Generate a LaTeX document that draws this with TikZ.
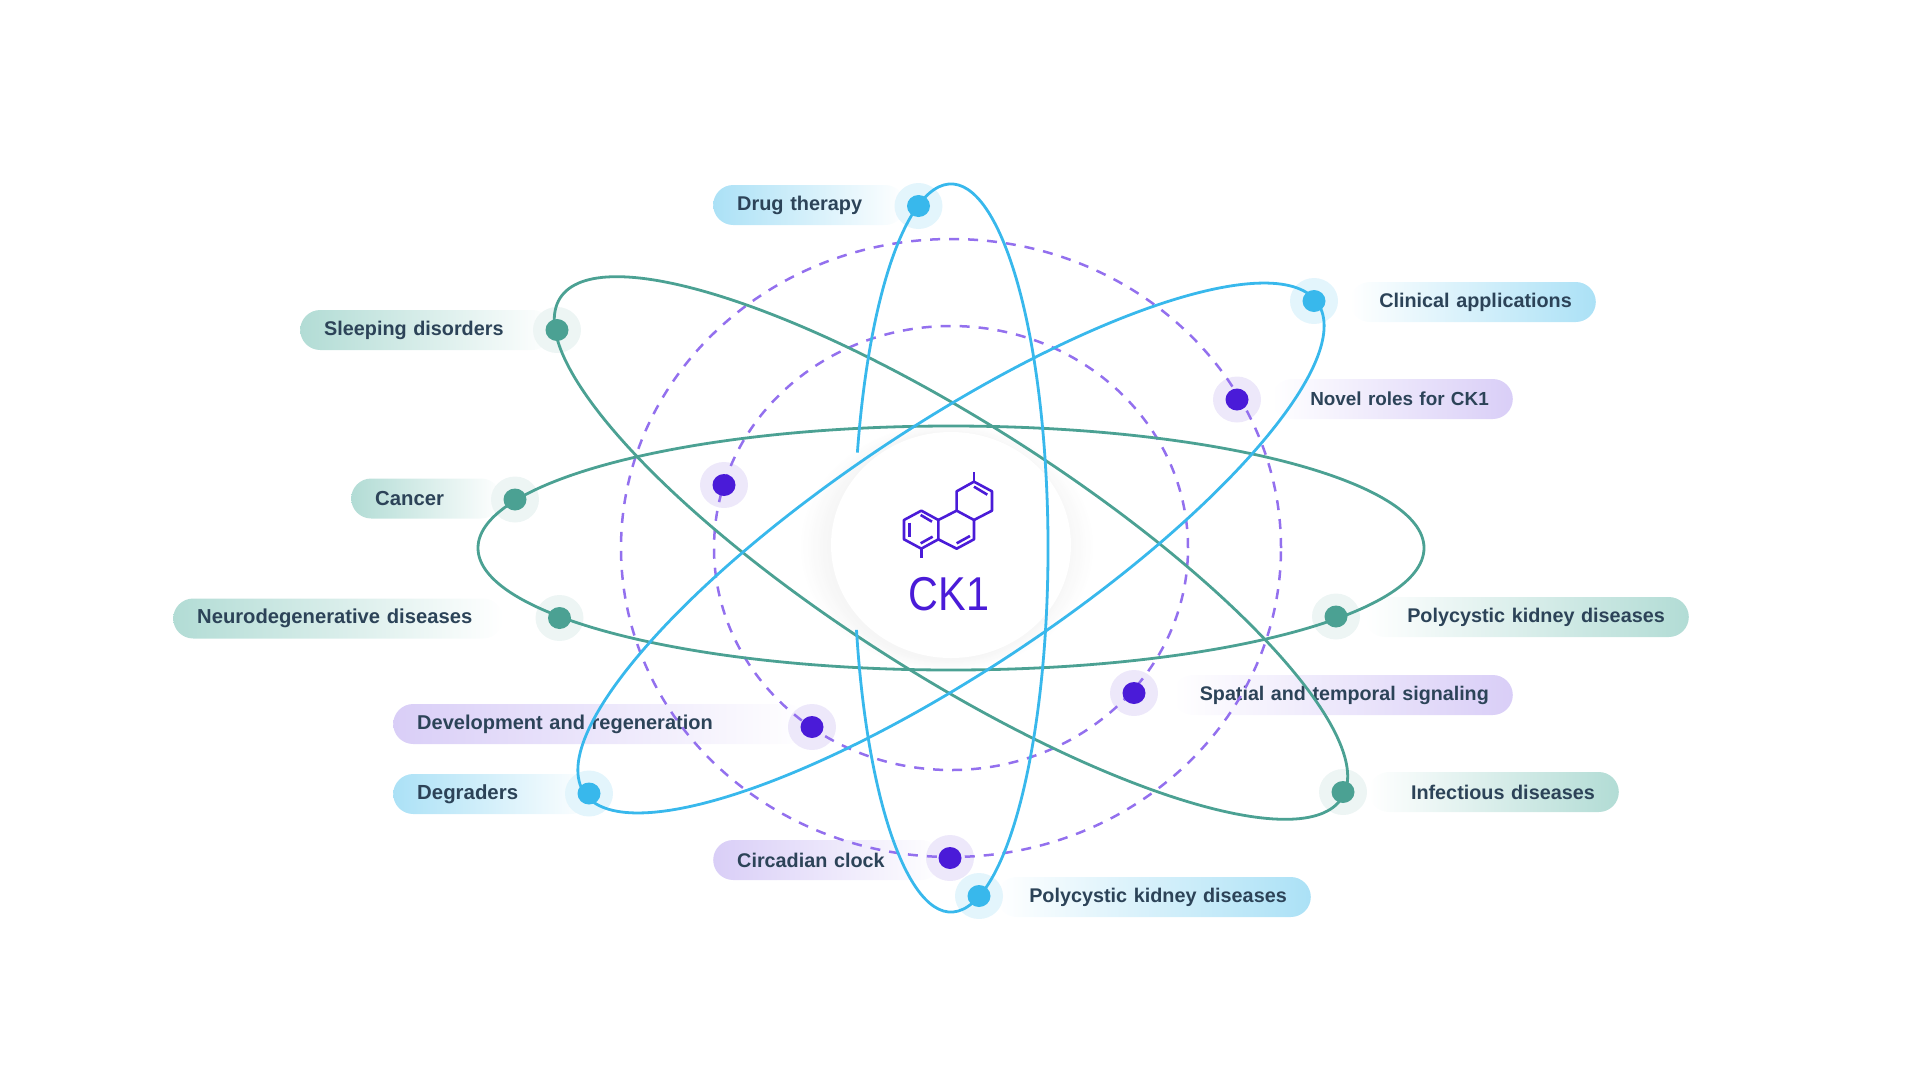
\documentclass[tikz,border=0pt]{standalone}
\usepackage{fontspec}
\setmainfont{Liberation Sans}
\newfontfamily\corefont[FakeStretch=0.87]{Liberation Sans}
\usetikzlibrary{shapes.geometric}

\definecolor{tealline}{HTML}{4BA193}
\definecolor{skyline}{HTML}{38B8EC}
\definecolor{violetline}{HTML}{9370EE}
\definecolor{violetdark}{HTML}{4A1BD8}
\definecolor{tealpill}{HTML}{B2DCD5}
\definecolor{skypill}{HTML}{ABE1F6}
\definecolor{violetpill}{HTML}{D9CEF7}
\definecolor{tealhalo}{HTML}{EDF5F4}
\definecolor{skyhalo}{HTML}{E3F5FC}
\definecolor{violethalo}{HTML}{EDE8FA}
\definecolor{labeltext}{HTML}{2C4358}

\tikzset{
  orbit/.style={line width=2.8pt},
  ring/.style={line width=2.5pt,violetline,dash pattern=on 10pt off 9pt},
  pill/.style={rounded corners=20pt,minimum height=40pt,inner ysep=0pt,inner xsep=24pt,
    text=labeltext,font=\fontsize{#1pt}{24pt}\selectfont\bfseries},
  pillleft/.style 2 args={pill=#2,anchor=west,align=left,left color=#1,right color=white},
  pillright/.style 2 args={pill=#2,anchor=east,align=right,right color=#1,left color=white},
  halo/.style={ellipse,minimum width=48pt,minimum height=46pt,inner sep=0pt,fill=#1},
  dot/.style={ellipse,minimum width=23pt,minimum height=22pt,inner sep=0pt,fill=#1},
  bond/.style={line width=2.6pt,violetdark,line join=round}
}

\begin{document}
\begin{tikzpicture}[x=1pt,y=-1pt]
  \useasboundingbox (0,0) rectangle (1920,1080);
  \coordinate (centre) at (951,548);

  % Labels on the left
  \node[pillleft={skypill}{19.9},text width=144pt] (drug) at (713,205) {Drug therapy};
  \node[pillleft={tealpill}{19.8},text width=204pt] (sleep) at (300,330) {Sleeping disorders};
  \node[pillleft={tealpill}{20.3},text width=102pt] (cancer) at (351,498.5) {Cancer};
  \node[pillleft={tealpill}{20.2},text width=282pt] (neuro) at (173,618.5) {Neurodegenerative diseases};
  \node[pillleft={violetpill}{20},text width=366pt] (devel) at (393,724) {Development and regeneration};
  \node[pillleft={skypill}{20.4},text width=150pt] (degrad) at (393,794) {Degraders};
  \node[pillleft={violetpill}{19.8},text width=180pt] (clock) at (713,860) {Circadian clock};

  % Labels on the right
  \node[pillright={skypill}{19.8},text width=198pt] (clinic) at (1596,302) {Clinical applications};
  \node[pillright={violetpill}{18.9},text width=193pt] (novel) at (1513,399) {Novel roles for CK1};
  \node[pillright={tealpill}{19.8},text width=276pt] (kidneyA) at (1689,617) {Polycystic kidney diseases};
  \node[pillright={violetpill}{19.7},text width=292pt] (spatial) at (1513,695) {Spatial and temporal signaling};
  \node[pillright={tealpill}{19.8},text width=202pt] (infect) at (1619,792) {Infectious diseases};
  \node[pillright={skypill}{19.8},text width=266pt] (kidneyB) at (1311,897) {Polycystic kidney diseases};

  % Halos under the lines
  \foreach \nm/\px/\py/\col in {drug/918.5/206/skyhalo,clinic/1314/301/skyhalo,degrad/589/793.5/skyhalo,kidneyB/979/896/skyhalo,
    sleep/557/330/tealhalo,cancer/515/499.5/tealhalo,neuro/559.5/618/tealhalo,kidneyA/1336/616.5/tealhalo,infect/1343/792/tealhalo,
    novel/1237/399.5/violethalo,free/724/485/violethalo,devel/812/727/violethalo,spatial/1134/693/violethalo,clock/950/858/violethalo}
    \node[halo=\col] (halo\nm) at (\px,\py) {};

  % Glow behind the centre
  \foreach \k in {0,...,12} {
    \pgfmathsetmacro\glowrx{148-2.4*\k}
    \pgfmathsetmacro\glowry{124-0.9*\k}
    \pgfmathsetmacro\glowpct{0.3*\k}
    \fill[black!\glowpct!white] (947,547) ellipse [x radius=\glowrx pt,y radius=\glowry pt];
  }
  \node[ellipse,fill=white,minimum width=240pt,minimum height=226pt,inner sep=0pt] (core) at (951,545) {};

  % Dashed rings
  \draw[ring] (centre) ellipse [x radius=330pt,y radius=309pt];
  \draw[ring] (centre) ellipse [x radius=237pt,y radius=222pt];

  % Orbits
  \draw[orbit,tealline] (centre) ellipse [x radius=473pt,y radius=122pt];
  \draw[orbit,tealline,rotate=-32.6] (centre) ellipse [x radius=464pt,y radius=125pt];
  \draw[orbit,skyline,rotate=33.7] (centre) ellipse [x radius=441pt,y radius=122pt];
  \draw[orbit,skyline] ([shift={(193:97pt and 364pt)}]centre) arc [start angle=193,end angle=524.8,x radius=97pt,y radius=364pt];

  % Dots on top
  \foreach \nm/\px/\py/\col in {drug/918.5/206/skyline,clinic/1314/301/skyline,degrad/589/793.5/skyline,kidneyB/979/896/skyline,
    sleep/557/330/tealline,cancer/515/499.5/tealline,neuro/559.5/618/tealline,kidneyA/1336/616.5/tealline,infect/1343/792/tealline,
    novel/1237/399.5/violetdark,free/724/485/violetdark,devel/812/727/violetdark,spatial/1134/693/violetdark,clock/950/858/violetdark}
    \node[dot=\col] (dot\nm) at (\px,\py) {};

  % Molecule, read off in zoomed pixels
  \begin{scope}[shift={(780,400)},x=0.3333pt,y=-0.3333pt]
    \draw[bond] (424,332) -- (475,360) -- (475,418) -- (424,446) -- (372,418) -- (372,360) -- cycle;
    \draw[bond] (475,360) -- (530,332) -- (582,360) -- (582,418) -- (530,446) -- (475,418);
    \draw[bond] (530,332) -- (530,274) -- (582,245) -- (636,274) -- (636,332) -- (582,360);
    \draw[bond] (582,245) -- (582,216);
    \draw[bond] (424,446) -- (424,474);
    \draw[bond] (422,345) -- (456,365);
    \draw[bond] (388,368) -- (388,410);
    \draw[bond] (422,430) -- (458,410);
    \draw[bond] (530,430) -- (570,408);
    \draw[bond] (582,260) -- (622,284);
  \end{scope}

  \node[text=violetdark,font=\corefont\fontsize{47.5pt}{50pt}\selectfont,inner sep=0pt] (title) at (949,594) {CK1};
\end{tikzpicture}
\end{document}
